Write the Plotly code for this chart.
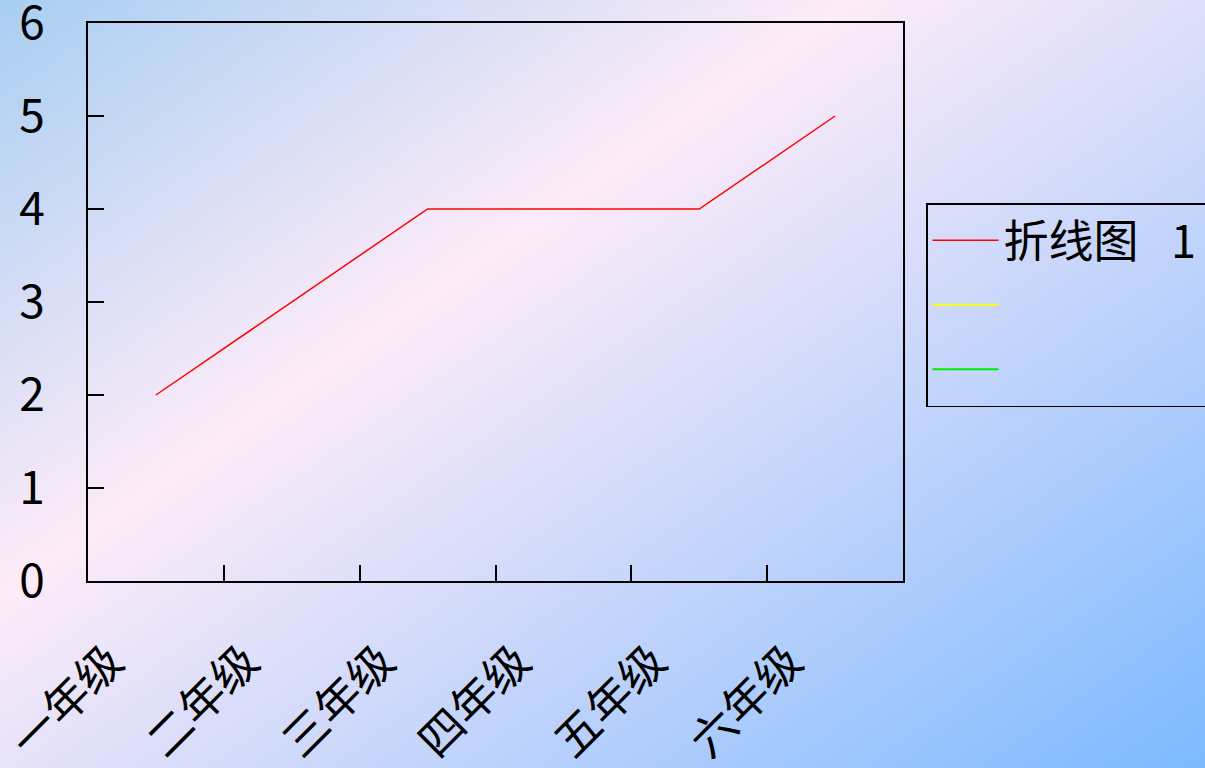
import base64
import plotly.graph_objects as go

categories = ["一年级", "二年级", "三年级", "四年级", "五年级", "六年级"]
series1_name = "折线图\u2002\u00a01\u3000"
series1_values = [2, 3, 4, 4, 4, 5]
extra_names = [" ", "  "]
extra_colors = ["#ffff00", "#00ee00"]
y_ticks = [0, 1, 2, 3, 4, 5, 6]

W, H = 1205, 768
svg = f'''<svg xmlns="http://www.w3.org/2000/svg" width="{W}" height="{H}" viewBox="0 0 {W} {H}" preserveAspectRatio="none">
<defs><linearGradient id="g" gradientUnits="userSpaceOnUse" x1="0" y1="0" x2="755" y2="1082">
<stop offset="0" stop-color="#a8cef2"/>
<stop offset="0.37" stop-color="#fdebf8"/>
<stop offset="1" stop-color="#7cb9ff"/>
</linearGradient></defs>
<rect x="0" y="0" width="{W}" height="{H}" fill="url(#g)"/></svg>'''
bg_src = "data:image/svg+xml;base64," + base64.b64encode(svg.encode()).decode()

num_font = "Liberation Sans Narrow, Noto Sans CJK SC, sans-serif"
cjk_font = "Noto Sans CJK SC, sans-serif"

fig = go.Figure()
fig.add_trace(go.Scatter(x=categories, y=series1_values, mode="lines", name=series1_name,
                         line=dict(color="#ff0000", width=1.5), legendgroup="a"))
for nm, col, grp in zip(extra_names, extra_colors, ["b", "c"]):
    fig.add_trace(go.Scatter(x=[None], y=[None], mode="lines", name=nm,
                             line=dict(color=col, width=2), legendgroup=grp))

fig.update_layout(
    width=W, height=H,
    margin=dict(l=88, r=302, t=23, b=187, autoexpand=False),
    paper_bgcolor="rgba(0,0,0,0)",
    plot_bgcolor="rgba(0,0,0,0)",
    font=dict(family=num_font, size=36, color="#000000"),
    images=[dict(source=bg_src, xref="paper", yref="paper", x=-88/815, y=1+23/558,
                 sizex=W/815, sizey=H/558, xanchor="left", yanchor="top",
                 sizing="stretch", layer="below")],
    showlegend=True,
    legend=dict(x=(926-88)/815, y=1-(203-23)/558, xanchor="left", yanchor="top",
                bgcolor="rgba(0,0,0,0)", bordercolor="#000000", borderwidth=1.5,
                font=dict(family=cjk_font, size=45),
                traceorder="grouped", tracegroupgap=3, itemwidth=66),
    xaxis=dict(type="category", range=[-0.5, 5.5], tickson="boundaries",
               ticks="inside", ticklen=16, tickwidth=1.5, tickcolor="#000000",
               showline=True, linecolor="#000000", linewidth=2, mirror=True,
               showgrid=False, zeroline=False, tickangle=-45,
               ticklabelstandoff=34, ticklabelshift=-46,
               tickfont=dict(family=cjk_font, size=45)),
    yaxis=dict(range=[0, 6], tickvals=y_ticks, ticks="inside", ticklen=16,
               tickwidth=1.5, tickcolor="#000000",
               showline=True, linecolor="#000000", linewidth=2, mirror=True,
               showgrid=False, zeroline=False, ticklabelstandoff=32,
               ticklabeloverflow="allow",
               tickfont=dict(family=num_font, size=46)),
)
fig.write_html("out.html", config={"displayModeBar": False},
               post_script="document.body.style.margin='0';document.body.style.overflow='hidden';")
